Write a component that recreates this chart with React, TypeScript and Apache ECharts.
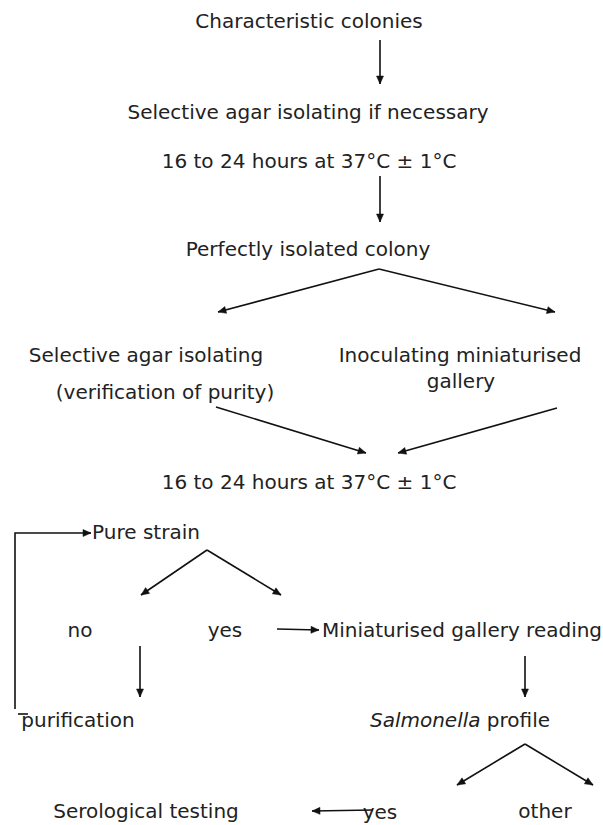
import React, { useEffect, useRef } from "react";
import * as echarts from "echarts";

// Flowchart content
const labels: string[] = [
  "Characteristic colonies",
  "Selective agar isolating if necessary",
  "16 to 24 hours at 37°C ± 1°C",
  "Perfectly isolated colony",
  "Selective agar isolating",
  "(verification of purity)",
  "Inoculating miniaturised",
  "gallery",
  "16 to 24 hours at 37°C ± 1°C",
  "Pure strain",
  "no",
  "yes",
  "Miniaturised gallery reading",
  "purification",
  "{i|Salmonella} profile",
  "Serological testing",
  "yes",
  "other",
];

// Layout (centre x, centre y) of each label
const labelPos: number[][] = [
  [309, 21],
  [308, 112],
  [309, 161],
  [308, 249],
  [146, 355],
  [165, 392],
  [460, 355],
  [461, 381],
  [309, 482],
  [146, 532],
  [80, 630],
  [225, 630],
  [462, 630],
  [78, 720],
  [460, 720],
  [146, 811],
  [380, 812],
  [545, 811],
];

// Arrows: polyline points, arrowhead at the last point
const arrows: number[][][] = [
  [[380, 40], [380, 84]],
  [[380, 176], [380, 222]],
  [[379, 269], [218, 312]],
  [[379, 269], [555, 312]],
  [[216, 407], [366, 453]],
  [[557, 408], [398, 453]],
  [[207, 550], [141, 595]],
  [[207, 550], [281, 595]],
  [[277, 629], [319, 630]],
  [[140, 646], [140, 697]],
  [[525, 656], [525, 697]],
  [[525, 744], [457, 785]],
  [[525, 744], [593, 785]],
  [[373, 810], [312, 811]],
  [[15, 709], [15, 533], [91, 533]],
];

// Plain segments without arrowheads
const segments: number[][][] = [
  [[18, 714], [28, 714]],
];

const FONT = '"DejaVu Sans", Verdana, sans-serif';
const TEXT_COLOR = "#222";
const LINE_COLOR = "#111";

function buildGraphics(): any[] {
  const els: any[] = [];
  labels.forEach((t, i) => {
    const [x, y] = labelPos[i];
    els.push({
      type: "text",
      x,
      y,
      silent: true,
      style: {
        text: t,
        fill: TEXT_COLOR,
        fontSize: 20,
        fontFamily: FONT,
        textAlign: "center",
        textVerticalAlign: "middle",
        rich: {
          i: { fontStyle: "italic", fontSize: 20, fontFamily: FONT, fill: TEXT_COLOR },
        },
      },
    });
  });
  const lineStyle = { stroke: LINE_COLOR, lineWidth: 1.6, fill: null };
  arrows.forEach((pts) => {
    els.push({ type: "polyline", silent: true, shape: { points: pts }, style: lineStyle });
    const [x2, y2] = pts[pts.length - 1];
    const [x1, y1] = pts[pts.length - 2];
    const dx = x2 - x1;
    const dy = y2 - y1;
    const len = Math.sqrt(dx * dx + dy * dy);
    const ux = dx / len;
    const uy = dy / len;
    const L = 8;
    const W = 3.5;
    const bx = x2 - ux * L;
    const by = y2 - uy * L;
    els.push({
      type: "polygon",
      silent: true,
      shape: {
        points: [
          [x2, y2],
          [bx - uy * W, by + ux * W],
          [bx + uy * W, by - ux * W],
        ],
      },
      style: { fill: LINE_COLOR, stroke: LINE_COLOR, lineWidth: 0.5 },
    });
  });
  segments.forEach((pts) => {
    els.push({ type: "polyline", silent: true, shape: { points: pts }, style: lineStyle });
  });
  return els;
}

export default function App() {
  const ref = useRef<HTMLDivElement>(null);
  useEffect(() => {
    if (!ref.current) return;
    const chart = echarts.init(ref.current, null, { renderer: "svg" });
    chart.setOption({
      animation: false,
      backgroundColor: "#ffffff",
      graphic: { elements: buildGraphics() },
    });
    return () => chart.dispose();
  }, []);
  return (
    <div
      ref={ref}
      style={{ position: "absolute", left: 0, top: 0, width: 603, height: 825, background: "#fff" }}
    />
  );
}
